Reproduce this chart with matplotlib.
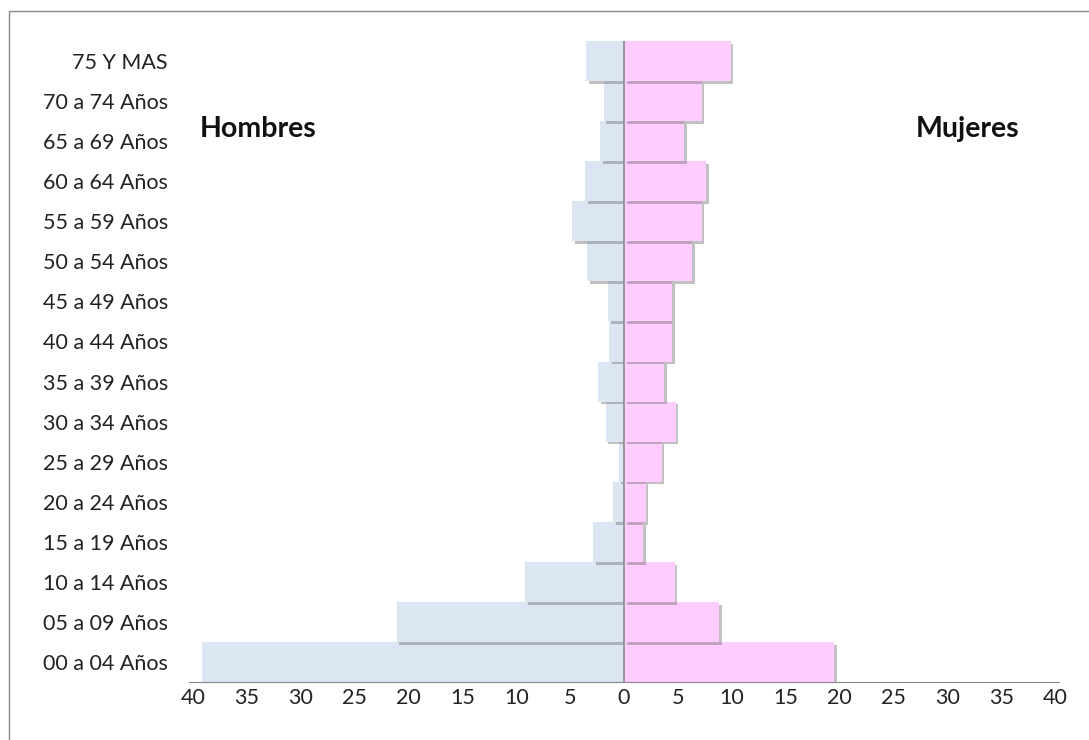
import matplotlib
matplotlib.use("Agg")
from matplotlib import pyplot as plt
from matplotlib import patheffects as pe
from matplotlib.patches import Rectangle

groups = ["00 a 04 Años", "05 a 09 Años", "10 a 14 Años", "15 a 19 Años",
          "20 a 24 Años", "25 a 29 Años", "30 a 34 Años", "35 a 39 Años",
          "40 a 44 Años", "45 a 49 Años", "50 a 54 Años", "55 a 59 Años",
          "60 a 64 Años", "65 a 69 Años", "70 a 74 Años", "75 Y MAS"]
hombres = [39.2, 21.1, 9.2, 2.9, 1.0, 0.5, 1.7, 2.4,
           1.4, 1.5, 3.4, 4.8, 3.6, 2.2, 1.9, 3.5]
mujeres = [19.5, 8.8, 4.7, 1.8, 2.0, 3.5, 4.8, 3.7,
           4.5, 4.5, 6.3, 7.2, 7.6, 5.6, 7.2, 9.9]
xticks = [-40, -35, -30, -25, -20, -15, -10, -5, 0, 5, 10, 15, 20, 25, 30, 35, 40]

plt.rcParams['font.family'] = ['Lato', 'DejaVu Sans']

fig = plt.figure(figsize=(10.89, 7.4), dpi=100)
W, H = 1089, 740
ax = fig.add_axes([193 / W, 1 - 682 / H, (1055 - 193) / W, (682 - 41) / H])

shadow = [pe.SimplePatchShadow(offset=(2, -2), shadow_rgbFace="#666666", alpha=0.4), pe.Normal()]
y = range(len(groups))
ax.barh(y, [-v for v in hombres], height=1.0, color="#dce6f2", path_effects=shadow, zorder=2)
ax.barh(y, mujeres, height=1.0, color="#ffccff", path_effects=shadow, zorder=2)

ax.set_xlim(-40, 40)
ax.set_ylim(-0.5, len(groups) - 0.5)
ax.set_xticks(xticks)
ax.set_xticklabels([str(abs(t)) for t in xticks], fontsize=15.5, color="#222222")
ax.set_yticks(list(y))
ax.set_yticklabels(groups, fontsize=15.5, color="#222222")
ax.tick_params(axis="x", length=0, pad=4)
ax.tick_params(axis="y", length=0, pad=18)

for s in ["top", "right", "left"]:
    ax.spines[s].set_visible(False)
ax.spines["bottom"].set_color("#888888")
ax.spines["bottom"].set_bounds(-40.4, 40.4)
ax.spines["bottom"].set_clip_on(False)
ax.axvline(0, color="#888888", lw=1.2, zorder=3)

fig.text(200 / W, 1 - 137 / H, "Hombres", fontsize=20.5, fontweight="bold", color="#111111")
fig.text(916 / W, 1 - 137 / H, "Mujeres", fontsize=20.5, fontweight="bold", color="#111111")

fig.add_artist(Rectangle((9 / W, -0.1), 1.2, 1.1 - 11 / H, transform=fig.transFigure,
                         fill=False, edgecolor="#888888", lw=1))

fig.savefig("out.png", dpi=100)
